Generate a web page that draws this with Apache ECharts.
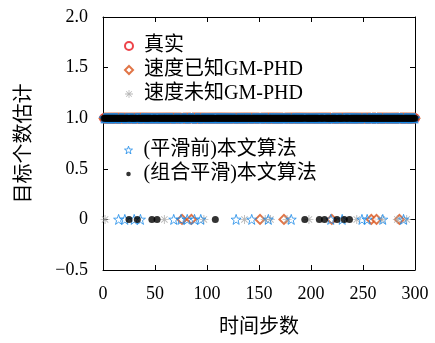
<!DOCTYPE html>
<html><head><meta charset="utf-8">
<script src="https://cdn.jsdelivr.net/npm/echarts@6/dist/echarts.min.js"></script>
<style>html,body{margin:0;padding:0;background:#fff}#c{width:435px;height:343px}</style>
</head><body><div id="c"></div><script>
// ---- data ----
const seriesNames = ['真实', '速度已知GM-PHD', '速度未知GM-PHD', '(平滑前)本文算法', '(组合平滑)本文算法'];
const stepCount = 300;            // time steps 1..300, estimated target count is 1 except listed steps
const trueZeroSteps = [];
const knownGMZeroSteps = [76, 85, 151, 174, 220, 258, 263, 285];
const unknownGMZeroSteps = [2, 59, 97, 136, 156, 161, 177, 198, 244, 268, 283, 292];
const beforeSmoothZeroSteps = [15, 21, 30, 36, 68, 75, 81, 88, 94, 128, 143, 159, 181, 219, 230, 249, 254, 269, 289];
const combinedZeroSteps = [25, 33, 47, 52, 108, 194, 208, 213, 225, 232, 237];
const xTicks = [0, 50, 100, 150, 200, 250, 300];
const yTicks = [-0.5, 0, 0.5, 1.0, 1.5, 2.0];

function buildSeries(zeroSteps) {
  const out = [];
  for (let k = 1; k <= stepCount; k++) out.push([k, zeroSteps.indexOf(k) >= 0 ? 0 : 1]);
  return out;
}

const starPath = 'path://M10 0 L12.35 6.76 L19.51 6.91 L13.80 11.24 L15.88 18.09 L10 14 L4.12 18.09 L6.20 11.24 L0.49 6.91 L7.65 6.76 Z';
const asteriskPath = 'path://M0 4.5 H10 V5.5 H0 Z M4.5 0 H5.5 V10 H4.5 Z M1.1 1.8 L1.8 1.1 L8.9 8.2 L8.2 8.9 Z M8.2 1.1 L8.9 1.8 L1.8 8.9 L1.1 8.2 Z';
const smallDotIcon = 'path://M0 0 M12 12 M2.6 6 A3.4 3.4 0 1 1 9.4 6 A3.4 3.4 0 1 1 2.6 6 Z';
const clear = 'rgba(0,0,0,0)';
const starBlue = '#1a8ae8';

const serifFont = '"Liberation Serif", "Noto Sans CJK SC", serif';

const chart = echarts.init(document.getElementById('c'), null, {renderer: 'canvas'});
const axisCommon = {
  type: 'value',
  axisLine: {show: true, onZero: false, lineStyle: {color: '#000', width: 1}},
  axisTick: {show: true, inside: true, length: 5, lineStyle: {color: '#000', width: 1}},
  splitLine: {show: false}
};
const legendCommon = {
  orient: 'vertical', left: 124, padding: 0,
  itemWidth: 8, itemHeight: 8, itemGap: 4, selectedMode: false,
  textStyle: {fontSize: 20, lineHeight: 20, color: '#000', fontFamily: serifFont, padding: [0, 0, 0, 6]}
};
chart.setOption({
  animation: false,
  backgroundColor: '#fff',
  grid: {left: 103, right: 20, top: 17, bottom: 68, containLabel: false},
  xAxis: [
    Object.assign({}, axisCommon, {
      position: 'bottom', min: xTicks[0], max: xTicks[xTicks.length - 1], interval: 50,
      axisLabel: {show: true, margin: 15, fontSize: 18, color: '#000', fontFamily: serifFont},
      name: '时间步数', nameLocation: 'middle', nameGap: 48,
      nameTextStyle: {fontSize: 20, color: '#000', fontFamily: serifFont}
    }),
    Object.assign({}, axisCommon, {
      position: 'top', min: xTicks[0], max: xTicks[xTicks.length - 1], interval: 50,
      axisLabel: {show: false}
    })
  ],
  yAxis: [
    Object.assign({}, axisCommon, {
      position: 'left', min: yTicks[0], max: yTicks[yTicks.length - 1], interval: 0.5,
      axisLabel: {show: true, margin: 15, fontSize: 18, color: '#000', fontFamily: serifFont,
        formatter: v => Math.abs(v) < 1e-9 ? '0' : (v < 0 ? '\u2212' + Math.abs(v).toFixed(1) : v.toFixed(1))},
      name: '目标个数估计', nameLocation: 'middle', nameGap: 68, nameRotate: 90,
      nameTextStyle: {fontSize: 20, color: '#000', fontFamily: serifFont}
    }),
    Object.assign({}, axisCommon, {
      position: 'right', min: yTicks[0], max: yTicks[yTicks.length - 1], interval: 0.5,
      axisLabel: {show: false}
    })
  ],
  legend: [
    Object.assign({}, legendCommon, {data: seriesNames.slice(0, 3), top: 36}),
    Object.assign({}, legendCommon, {data: [
      {name: seriesNames[3], itemStyle: {color: clear, borderColor: starBlue, borderWidth: 1}},
      {name: seriesNames[4], icon: smallDotIcon}
    ], top: 140})
  ],
  series: [
    {name: seriesNames[0], type: 'scatter', data: buildSeries(trueZeroSteps), symbol: 'emptyCircle', symbolSize: 8,
      itemStyle: {color: '#e8141b', borderColor: '#e8141b', borderWidth: 1}},
    {name: seriesNames[1], type: 'scatter', data: buildSeries(knownGMZeroSteps), symbol: 'emptyDiamond', symbolSize: 9,
      itemStyle: {color: '#d95319', borderColor: '#d95319', borderWidth: 1}},
    {name: seriesNames[2], type: 'scatter', data: buildSeries(unknownGMZeroSteps), symbol: asteriskPath, symbolSize: 9,
      itemStyle: {color: '#a6a6a6'}},
    {name: seriesNames[3], type: 'scatter', data: buildSeries(beforeSmoothZeroSteps), symbol: starPath, symbolSize: 10,
      itemStyle: {color: clear, borderColor: starBlue, borderWidth: 1}},
    {name: seriesNames[4], type: 'scatter', data: buildSeries(combinedZeroSteps), symbol: 'circle', symbolSize: 7,
      itemStyle: {color: '#000'}}
  ]
});
</script></body></html>
